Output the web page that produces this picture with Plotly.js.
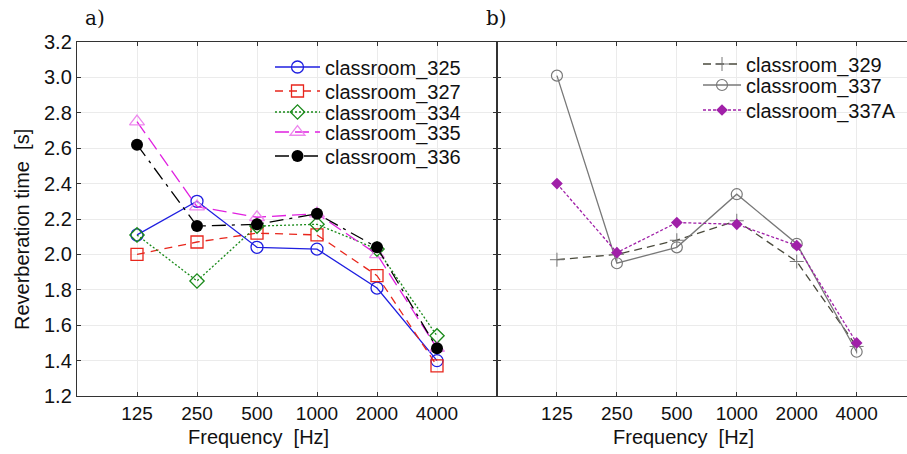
<!DOCTYPE html>
<html>
<head>
<meta charset="utf-8">
<script src="https://cdn.plot.ly/plotly-3.0.1.min.js"></script>
<style>html,body{margin:0;padding:0;background:#fff;}#chart{width:907px;height:454px;}</style>
</head>
<body>
<div id="chart"></div>
<script>
// ---- data ----
const freqs = ["125", "250", "500", "1000", "2000", "4000"];
const yTicks = [1.2, 1.4, 1.6, 1.8, 2.0, 2.2, 2.4, 2.6, 2.8, 3.0, 3.2];

const room325 = [2.11, 2.30, 2.04, 2.03, 1.81, 1.40];
const room327 = [2.00, 2.07, 2.12, 2.11, 1.88, 1.37];
const room334 = [2.11, 1.85, 2.16, 2.17, 2.03, 1.54];
const room335 = [2.75, 2.27, 2.21, 2.23, 2.00, 1.47];
const room336 = [2.62, 2.16, 2.17, 2.23, 2.04, 1.47];

const room329 = [1.97, 2.00, 2.08, 2.19, 1.96, 1.48];
const room337 = [3.01, 1.95, 2.04, 2.34, 2.06, 1.45];
const room337A = [2.40, 2.01, 2.18, 2.17, 2.05, 1.50];

const FONT = "Liberation Sans, Arial, sans-serif";

function tr(name, y, xa, ya, lg, line, marker) {
  return {x: freqs, y: y, name: name, type: "scatter", mode: "lines+markers",
    xaxis: xa, yaxis: ya, legend: lg, line: line, marker: marker};
}

const traces = [
  tr("classroom_325", room325, "x", "y", "legend",
     {color: "#1f1fe0", width: 1.3},
     {symbol: "circle-open", size: 12, color: "#1f1fe0", line: {width: 1.3}}),
  tr("classroom_327", room327, "x", "y", "legend2",
     {color: "#e8261c", width: 1.3, dash: "8px,6px"},
     {symbol: "square-open", size: 12, color: "#e8261c", line: {width: 1.3}}),
  tr("classroom_334", room334, "x", "y", "legend3",
     {color: "#1a8a1a", width: 1.3, dash: "2px,2px"},
     {symbol: "diamond-open", size: 11, color: "#1a8a1a", line: {width: 1.3}}),
  tr("classroom_335", room335, "x", "y", "legend4",
     {color: "#e020e0", width: 1.3, dash: "14px,6px"},
     {symbol: "triangle-up-open", size: 13, color: "#ee88ee", line: {width: 1.3}}),
  tr("classroom_336", room336, "x", "y", "legend5",
     {color: "#000000", width: 1.3, dash: "14px,6px,3px,6px"},
     {symbol: "circle", size: 12, color: "#000000"}),
  tr("classroom_329", room329, "x2", "y2", "legend6",
     {color: "#4a4a3c", width: 1.3, dash: "8px,5px"},
     {symbol: "cross-thin-open", size: 10, color: "#777777", line: {width: 1, color: "#777777"}}),
  tr("classroom_337", room337, "x2", "y2", "legend7",
     {color: "#787878", width: 1.3},
     {symbol: "circle-open", size: 11, color: "#787878", line: {width: 1.2}}),
  tr("classroom_337A", room337A, "x2", "y2", "legend8",
     {color: "#a020a8", width: 1.3, dash: "3px,2px"},
     {symbol: "diamond", size: 9, color: "#a020a8"})
];

const split = (497 - 77) / 830;

const xBase = {
  type: "category", showgrid: true, gridcolor: "#ebebeb", gridwidth: 1,
  showline: true, linecolor: "#333", linewidth: 1.2, mirror: "ticks",
  ticks: "inside", ticklen: 4, tickcolor: "#333",
  tickfont: {family: FONT, size: 19, color: "#111"}, zeroline: false
};
const yBase = {
  range: [1.2, 3.2], tickvals: yTicks, tickformat: ".1f",
  showgrid: true, gridcolor: "#ebebeb", gridwidth: 1,
  showline: true, linecolor: "#333", linewidth: 1.2,
  ticks: "inside", ticklen: 4, tickcolor: "#333",
  tickfont: {family: FONT, size: 20, color: "#111"}, zeroline: false,
  domain: [0, 1]
};

function lg(xText, yc, iw) {
  return {x: (xText - iw - 10 - 77) / 830, y: (396 - yc) / 354, xanchor: "left", yanchor: "middle",
          bgcolor: "rgba(0,0,0,0)", font: {family: FONT, size: 20, color: "#111"},
          itemwidth: iw, borderwidth: 0};
}

const layout = {
  width: 907, height: 454,
  margin: {l: 77, r: 0, t: 42, b: 58},
  paper_bgcolor: "#fff", plot_bgcolor: "#fff",
  font: {family: FONT, color: "#111"},
  xaxis: Object.assign({}, xBase, {domain: [0, split], range: [-1, 6], anchor: "y"}),
  xaxis2: Object.assign({}, xBase, {domain: [split, 1], range: [-1, 5.84], anchor: "y2", mirror: "ticks"}),
  yaxis: Object.assign({}, yBase, {anchor: "x", mirror: "ticks"}),
  yaxis2: Object.assign({}, yBase, {anchor: "x2", showticklabels: false, mirror: false}),
  legend: lg(325, 67, 45),
  legend2: lg(325, 91, 45),
  legend3: lg(325, 112, 45),
  legend4: lg(325, 132, 45),
  legend5: lg(325, 156, 45),
  legend6: lg(746, 64, 38),
  legend7: lg(746, 85, 38),
  legend8: lg(746, 110, 38),
  showlegend: true,
  annotations: [
    {text: "a)", xref: "paper", yref: "paper", x: (95 - 77) / 830, y: (396 - 18) / 354,
     showarrow: false, xanchor: "center", yanchor: "middle",
     font: {family: "DejaVu Serif, Liberation Serif, serif", size: 20, color: "#111"}},
    {text: "b)", xref: "paper", yref: "paper", x: (497 - 77) / 830, y: (396 - 18) / 354,
     showarrow: false, xanchor: "center", yanchor: "middle",
     font: {family: "DejaVu Serif, Liberation Serif, serif", size: 20, color: "#111"}},
    {text: "Frequency\u00a0\u00a0[Hz]", xref: "paper", yref: "paper", x: (258 - 77) / 830, y: (396 - 437) / 354,
     showarrow: false, xanchor: "center", yanchor: "middle",
     font: {family: FONT, size: 20, color: "#111"}},
    {text: "Frequency\u00a0\u00a0[Hz]", xref: "paper", yref: "paper", x: (683 - 77) / 830, y: (396 - 437) / 354,
     showarrow: false, xanchor: "center", yanchor: "middle",
     font: {family: FONT, size: 20, color: "#111"}},
    {text: "Reverberation time\u00a0\u00a0[s]", xref: "paper", yref: "paper", x: (22 - 77) / 830, y: (396 - 230) / 354,
     showarrow: false, xanchor: "center", yanchor: "middle", textangle: -90,
     font: {family: FONT, size: 20, color: "#111"}}
  ]
};

Plotly.newPlot("chart", traces, layout, {displayModeBar: false, staticPlot: true});
</script>
</body>
</html>
